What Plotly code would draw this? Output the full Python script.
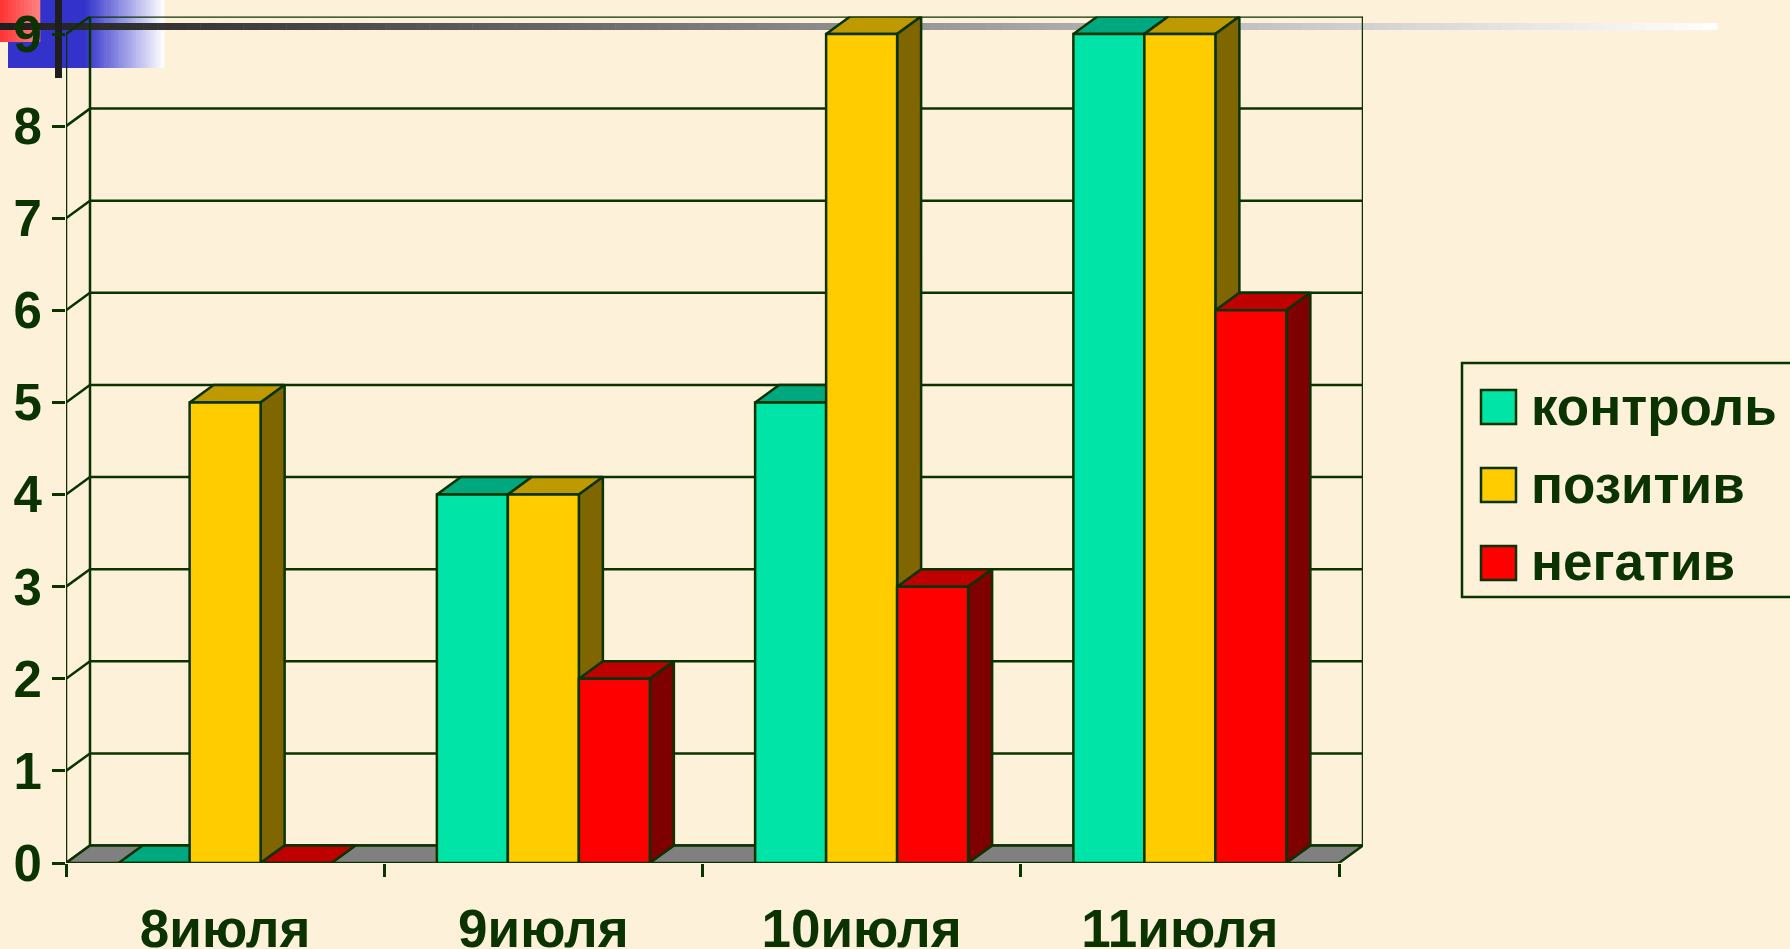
import plotly.graph_objects as go

categories = ["8июля", "9июля", "10июля", "11июля"]
series_names = ["контроль", "позитив", "негатив"]
control = [0, 4, 5, 9]
positive = [5, 4, 9, 9]
negative = [0, 2, 3, 6]
y_ticks = [0, 1, 2, 3, 4, 5, 6, 7, 8, 9]

W, H = 1790, 949
FONT = "Arial, 'Liberation Sans', 'DejaVu Sans', sans-serif"
INK = "#0A3300"
BG = "#FDF1DA"
FRONT = ["#00E4A8", "#FFCC00", "#FF0000"]
TOP = ["#00A880", "#BF9900", "#BF0000"]
SIDE = ["#007F5E", "#7F6600", "#7F0000"]
FLOOR = "#808080"

# plot geometry (pixels)
X0, X_STEP = 66.0, 318.25
Y0, Y_UNIT = 863.0, 92.11
DX_PX, DY_PX = 24.0, 17.5
DX = DX_PX / X_STEP
DY = DY_PX / Y_UNIT
BAR_W = 71.0 / X_STEP
XMIN, XMAX = -0.5, len(categories) - 0.5
YMAX = max(y_ticks)

px = lambda v: v / W
py = lambda v: 1 - v / H

fig = go.Figure()


def polyline(xs, ys, width=2.5, color=INK):
    fig.add_trace(go.Scatter(x=xs, y=ys, mode="lines", line=dict(color=color, width=width),
                             hoverinfo="skip", showlegend=False, cliponaxis=False))


def face(xs, ys, fill):
    fig.add_trace(go.Scatter(x=xs, y=ys, mode="lines", fill="toself", fillcolor=fill,
                             line=dict(color=INK, width=2.5), hoverinfo="skip",
                             showlegend=False, cliponaxis=False))


# back wall + side wall gridlines
gx, gy = [], []
for k in y_ticks:
    gx += [XMIN, XMIN + DX, XMAX + DX, None]
    gy += [k, k + DY, k + DY, None]
gx += [XMIN, XMIN, None, XMIN + DX, XMIN + DX, None, XMAX + DX, XMAX + DX, None, XMIN, XMAX]
gy += [0, YMAX, None, DY, YMAX + DY, None, DY, YMAX + DY, None, 0, 0]
polyline(gx, gy)

# floor
face([XMIN, XMAX, XMAX + DX, XMIN + DX, XMIN], [0, 0, DY, DY, 0], FLOOR)

# 3D top and side faces, computed from the same values as the bars
all_series = [control, positive, negative]
for s, vals in enumerate(all_series):
    for i, v in enumerate(vals):
        left = i + (s - 1) * BAR_W - BAR_W / 2
        right = left + BAR_W
        face([left, right, right + DX, left + DX, left], [v, v, v + DY, v + DY, v], TOP[s])
        if v > 0:
            face([right, right + DX, right + DX, right, right], [0, DY, v + DY, v, 0], SIDE[s])

# front faces on an overlaying axis pair, so they sit above the side faces
for s, vals in enumerate(all_series):
    fig.add_trace(go.Bar(x=categories, y=vals, marker=dict(color=FRONT[s], line=dict(color=INK, width=2.5)),
                         name=series_names[s], xaxis="x2", yaxis="y2", showlegend=False))

# legend entries
for s, name in enumerate(series_names):
    fig.add_trace(go.Scatter(x=[None], y=[None], mode="markers", name=name, legendgroup=name,
                             marker=dict(symbol="square", size=4, color=FRONT[s])))

# slide decoration
shapes = []
def rect(x0, y0, x1, y1, fill, line=None, lw=0, layer="below"):
    shapes.append(dict(type="rect", xref="paper", yref="paper", x0=px(x0), x1=px(x1), y0=py(y0), y1=py(y1),
                       fillcolor=fill, line=dict(color=line or fill, width=lw), layer=layer))

def lerp(a, b, t):
    return tuple(round(a[i] + (b[i] - a[i]) * t) for i in range(3))

def rgb(c):
    return "rgb(%d,%d,%d)" % c

# blue square with fade to white
rect(8, 0, 90, 68, "#3333CC")
n = 37
for j in range(n):
    xa = 85 + j * (164 - 85) / n
    xb = 85 + (j + 1) * (164 - 85) / n
    rect(xa, 0, xb + 0.5, 68, rgb(lerp((51, 51, 204), (255, 255, 255), (j + 0.5) / n)))
# red square
n = 10
for j in range(n):
    rect(j * 4, 0, (j + 1) * 4 + 0.3, 42, rgb(lerp((255, 50, 50), (255, 130, 130), (j + 0.5) / n)))
# horizontal bar with fade
n = 120
for j in range(n):
    xa = j * 1717 / n
    xb = (j + 1) * 1717 / n
    rect(xa, 23, xb + 0.5, 30, rgb(lerp((30, 30, 30), (255, 255, 255), (j + 0.5) / n)))
# vertical bar
rect(55, 0, 62, 78, "#1E1E1E")

# legend box + swatches
rect(1462, 363, 1800, 597, "rgba(0,0,0,0)", INK, 2.5)
for s, yc in enumerate([407, 485, 563]):
    rect(1481, yc - 17, 1516, yc + 17, FRONT[s], INK, 2.5)

y_font = dict(family=FONT, size=51, color=INK, weight="bold")
x_font = dict(family=FONT, size=53, color=INK, weight="bold")
x_dom = [px(X0), px(X0 + (XMAX + DX - XMIN) * X_STEP)]
y_dom = [py(Y0), py(Y0 - (YMAX + DY) * Y_UNIT)]

fig.update_layout(
    width=W, height=H, autosize=False,
    margin=dict(l=0, r=0, t=0, b=0, autoexpand=False),
    paper_bgcolor=BG, plot_bgcolor="rgba(0,0,0,0)",
    barmode="group", bargap=1 - 3 * BAR_W, bargroupgap=0,
    shapes=shapes,
    font=dict(family=FONT),
    xaxis=dict(domain=x_dom, range=[XMIN, XMAX + DX], type="linear",
               tickvals=[XMIN + i for i in range(len(categories) + 1)], showticklabels=False,
               ticks="outside", ticklen=13, tickwidth=2.5, tickcolor=INK,
               showgrid=False, zeroline=False, showline=False),
    yaxis=dict(domain=y_dom, range=[0, YMAX + DY], tickvals=y_ticks,
               ticks="outside", ticklen=13, tickwidth=2.5, tickcolor=INK,
               showgrid=False, zeroline=False, showline=False,
               tickfont=y_font),
    xaxis2=dict(domain=x_dom, range=[XMIN, XMAX + DX], type="category", overlaying="x", anchor="y2",
                categoryorder="array", categoryarray=categories,
                showgrid=False, zeroline=False, showline=False, ticks="",
                tickfont=x_font, ticklabelstandoff=30),
    yaxis2=dict(domain=y_dom, range=[0, YMAX + DY], overlaying="y", anchor="x2", visible=False),
    legend=dict(x=px(1491), y=py(407 - 44), xanchor="left", yanchor="top",
                bgcolor="rgba(0,0,0,0)", borderwidth=0, traceorder="grouped",
                tracegroupgap=6, font=dict(family=FONT, size=53, color=INK, weight="bold")),
    showlegend=True,
)

fig.write_html("out.html", config=dict(displayModeBar=False),
               post_script="document.body.style.margin='0';document.body.style.overflow='hidden';")
